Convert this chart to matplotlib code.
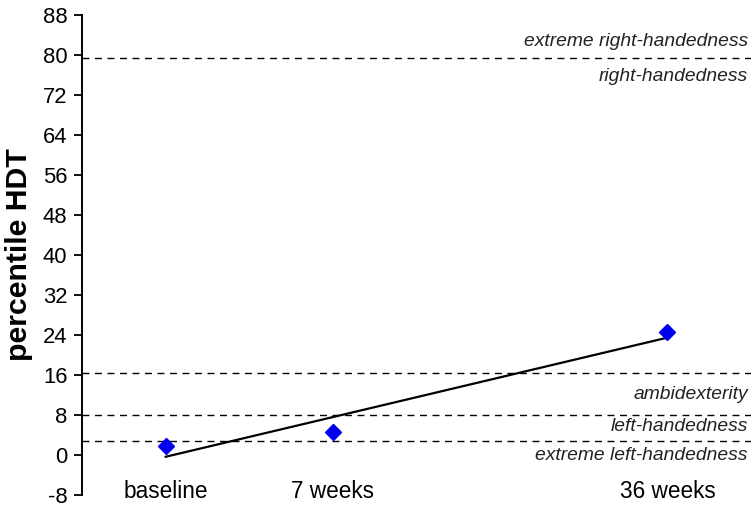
import numpy as np
import matplotlib
matplotlib.use("Agg")
import matplotlib.pyplot as plt

plt.rcParams["font.family"] = ["Liberation Sans", "DejaVu Sans"]

# data
categories = ["baseline", "7 weeks", "36 weeks"]
x_pos = [1, 2, 4]
percentile = [1.7, 4.5, 24.5]

# category boundaries (dashed lines) and zone labels
bounds = [79.3, 16.3, 8.0, 2.8]
zone_labels = ["extreme right-handedness", "right-handedness", "ambidexterity",
               "left-handedness", "extreme left-handedness"]
zone_label_y = [82.7, 75.7, 12.0, 5.7, -0.1]

yticks = list(range(-8, 89, 8))

fig = plt.figure(figsize=(7.56, 5.08), dpi=100)
ax = fig.add_axes([0.1085, 0.0256, 0.885, 0.945])

for b in bounds:
    ax.axhline(b, color="black", lw=1.0, ls=(0, (5, 4)))

# linear trend line across the time points
coef = np.polyfit(x_pos, percentile, 1)
xs = np.array([x_pos[0], x_pos[-1]])
ax.plot(xs, np.polyval(coef, xs), color="black", lw=1.6)

ax.plot(x_pos, percentile, ls="none", marker="D", markersize=8,
        color="#0000ee", markeredgecolor="#0000ee")

for txt, y in zip(zone_labels, zone_label_y):
    ax.text(4.48, y, txt, ha="right", va="center", fontsize=13.9,
            style="italic", color="#222222")

for c, x in zip(categories, x_pos):
    ax.text(x, -7.4, c, ha="center", va="center", fontsize=16.3)

ax.set_xlim(0.5, 4.5)
ax.set_ylim(-8, 88)
ax.set_yticks(yticks)
ax.set_yticklabels([str(t) for t in yticks], fontsize=15.8)
ax.set_xticks([])
ax.tick_params(axis="y", direction="out", length=5.5, width=1.3, pad=5)
for s in ["top", "right", "bottom"]:
    ax.spines[s].set_visible(False)
ax.spines["left"].set_linewidth(1.4)

ax.set_ylabel("percentile HDT", fontsize=21.8, fontweight="bold")
ax.yaxis.set_label_coords(-0.073, 0.5)

fig.savefig("out.png", dpi=100)
